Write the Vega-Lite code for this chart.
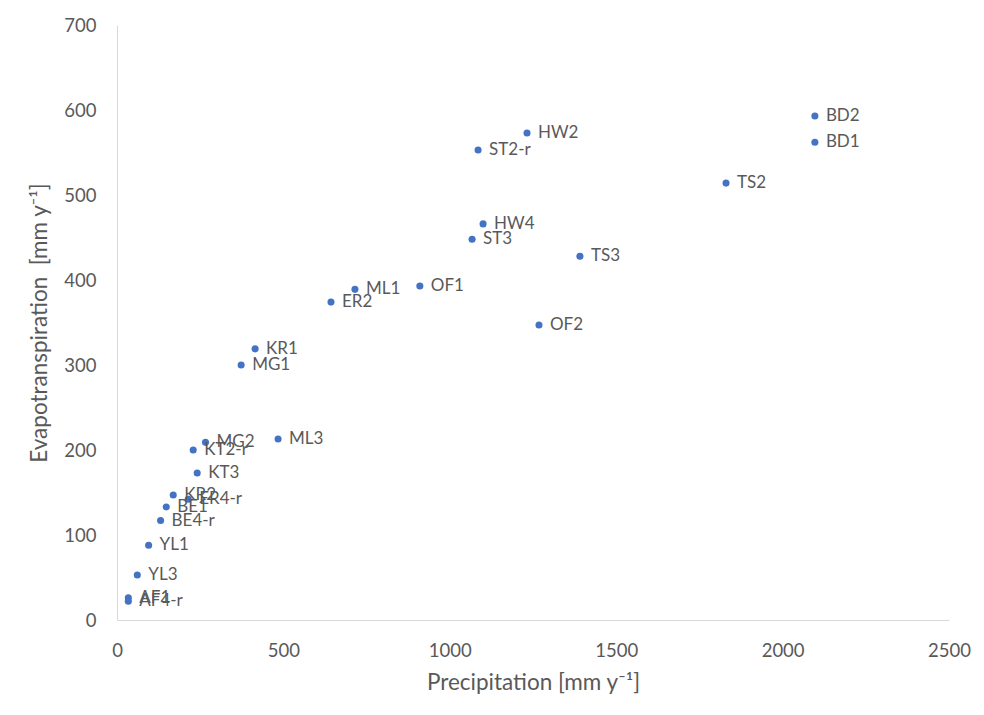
{
  "$schema": "https://vega.github.io/schema/vega-lite/v6.json",
  "autosize": "none",
  "width": 832,
  "height": 595,
  "padding": {"left": 117, "top": 25, "right": 35, "bottom": 95},
  "background": "white",
  "config": {
    "view": {"stroke": null},
    "font": "Lato",
    "axis": {
      "grid": false,
      "ticks": false,
      "labelFlush": false,
      "domainColor": "#d9d9d9",
      "domainWidth": 1,
      "labelColor": "#595959",
      "labelFontSize": 18.5,
      "labelFont": "Lato",
      "titleColor": "#595959",
      "titleFont": "Lato",
      "titleFontSize": 22.5,
      "titleFontWeight": "normal"
    }
  },
  "data": {
    "values": [
      {"site": "BD2", "P": 2097, "ET": 593},
      {"site": "BD1", "P": 2097, "ET": 562},
      {"site": "HW2", "P": 1232, "ET": 573},
      {"site": "ST2-r", "P": 1085, "ET": 553},
      {"site": "TS2", "P": 1830, "ET": 514},
      {"site": "HW4", "P": 1100, "ET": 466},
      {"site": "ST3", "P": 1067, "ET": 448},
      {"site": "TS3", "P": 1391, "ET": 428},
      {"site": "OF1", "P": 910, "ET": 393},
      {"site": "ML1", "P": 715, "ET": 389},
      {"site": "ER2", "P": 643, "ET": 374},
      {"site": "OF2", "P": 1268, "ET": 347},
      {"site": "KR1", "P": 415, "ET": 319},
      {"site": "MG1", "P": 373, "ET": 300},
      {"site": "ML3", "P": 484, "ET": 213},
      {"site": "MG2", "P": 266, "ET": 209},
      {"site": "KT2-r", "P": 229, "ET": 200},
      {"site": "KT3", "P": 241, "ET": 173},
      {"site": "KR2", "P": 169, "ET": 147},
      {"site": "ER4-r", "P": 214, "ET": 142},
      {"site": "BE1", "P": 148, "ET": 133},
      {"site": "BE4-r", "P": 131, "ET": 117},
      {"site": "YL1", "P": 95, "ET": 88},
      {"site": "YL3", "P": 61, "ET": 53},
      {"site": "AF1", "P": 34, "ET": 26},
      {"site": "AF4-r", "P": 34, "ET": 22}
    ]
  },
  "encoding": {
    "x": {
      "field": "P",
      "type": "quantitative",
      "scale": {"domain": [0, 2500], "nice": false},
      "axis": {
        "values": [0, 500, 1000, 1500, 2000, 2500],
        "format": "d",
        "labelPadding": 21,
        "title": "Precipitation [mm y⁻¹]",
        "titlePadding": 12
      }
    },
    "y": {
      "field": "ET",
      "type": "quantitative",
      "scale": {"domain": [0, 700], "nice": false},
      "axis": {
        "values": [0, 100, 200, 300, 400, 500, 600, 700],
        "format": "d",
        "labelPadding": 21,
        "title": "Evapotranspiration \u00a0[mm y⁻¹]",
        "titlePadding": 12
      }
    }
  },
  "layer": [
    {
      "mark": {"type": "point", "filled": true, "size": 50, "color": "#4472C4", "opacity": 1}
    },
    {
      "mark": {"type": "text", "align": "left", "baseline": "middle", "dx": 11, "fontSize": 17, "font": "Lato", "color": "#595959"},
      "encoding": {"text": {"field": "site"}}
    }
  ]
}
